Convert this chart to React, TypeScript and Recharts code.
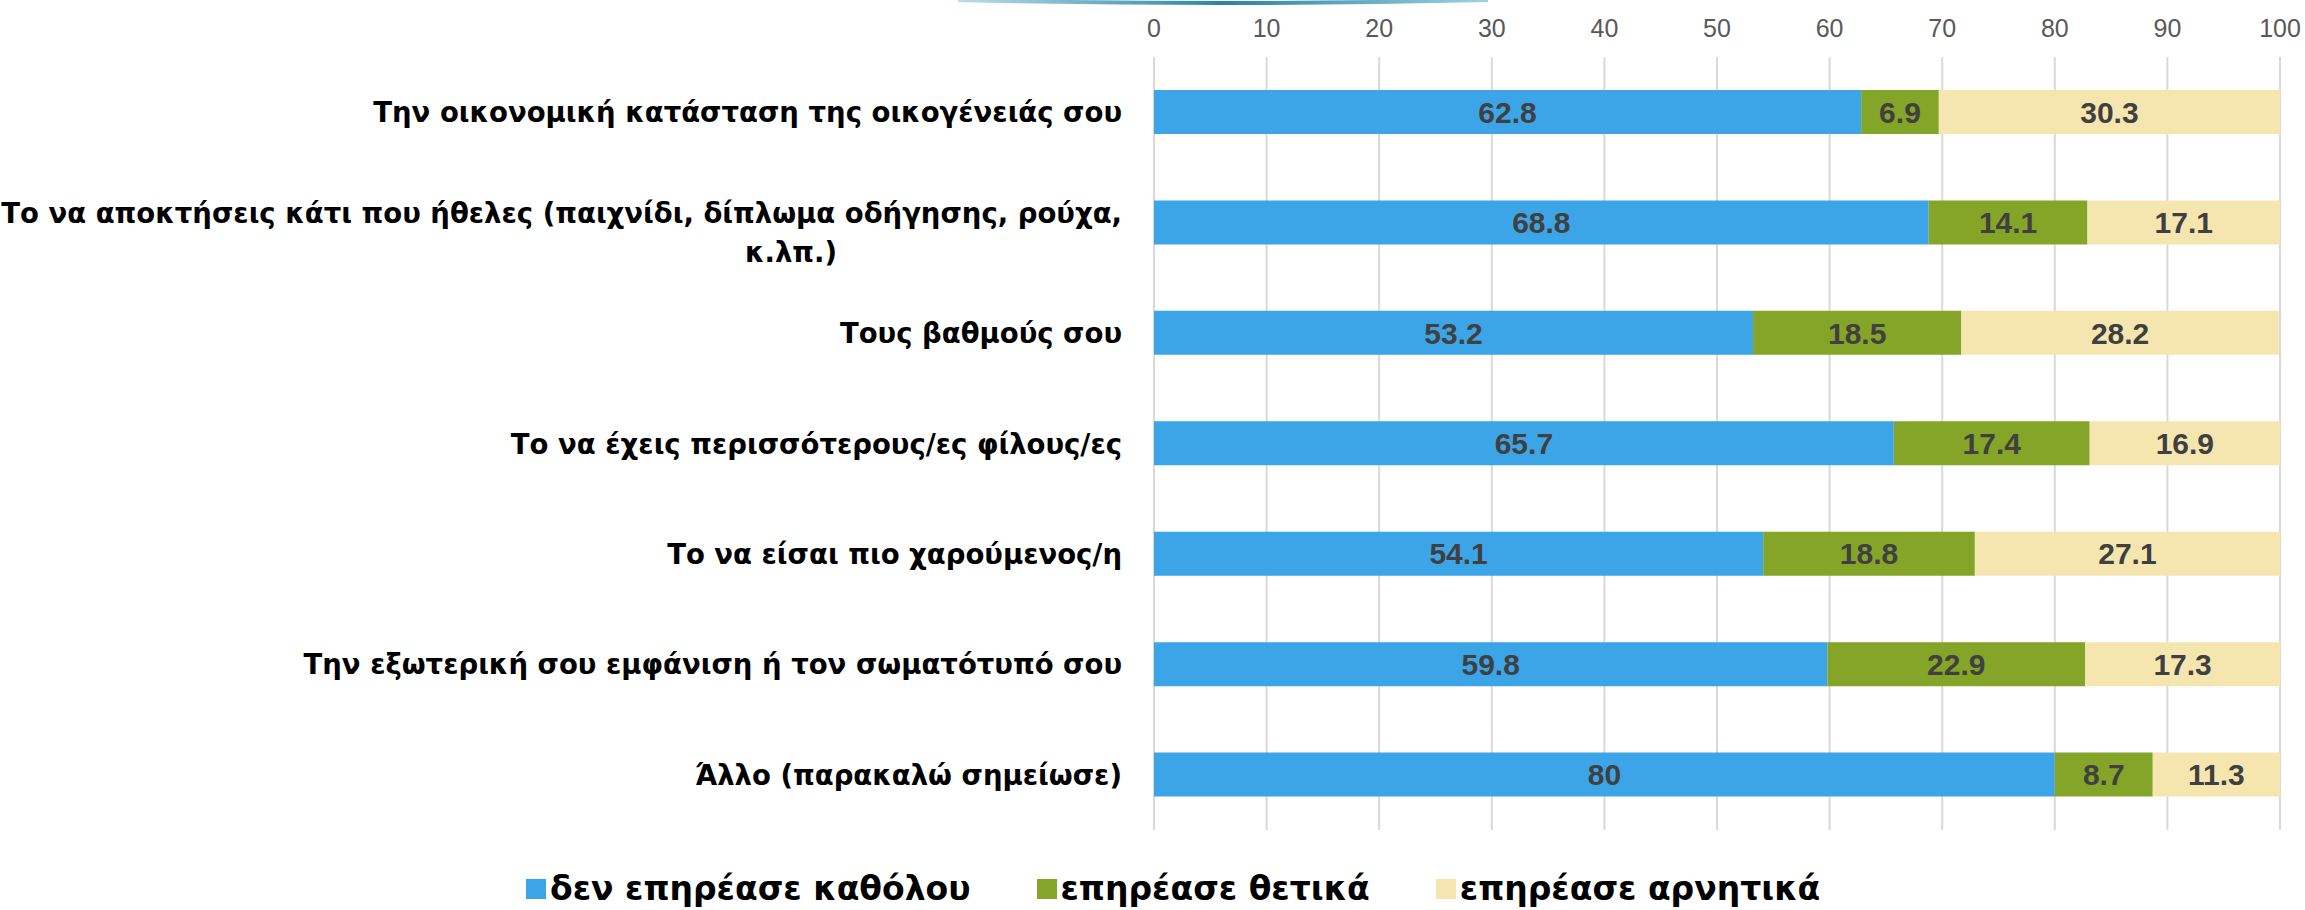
import { BarChart, Bar, XAxis, YAxis, CartesianGrid, Legend, LabelList } from "recharts";

const categories = [
    "Την οικονομική κατάσταση της οικογένειάς σου",
    "Το να αποκτήσεις κάτι που ήθελες (παιχνίδι, δίπλωμα οδήγησης, ρούχα,\nκ.λπ.)",
    "Τους βαθμούς σου",
    "Το να έχεις περισσότερους/ες φίλους/ες",
    "Το να είσαι πιο χαρούμενος/η",
    "Την εξωτερική σου εμφάνιση ή τον σωματότυπό σου",
    "Άλλο (παρακαλώ σημείωσε)",
];

const notAffected = [62.8, 68.8, 53.2, 65.7, 54.1, 59.8, 80];
const positive = [6.9, 14.1, 18.5, 17.4, 18.8, 22.9, 8.7];
const negative = [30.3, 17.1, 28.2, 16.9, 27.1, 17.3, 11.3];

const xTicks = [0, 10, 20, 30, 40, 50, 60, 70, 80, 90, 100];

const series = [
    { key: "none", name: "δεν επηρέασε καθόλου", color: "#3BA5E8" },
    { key: "pos", name: "επηρέασε θετικά", color: "#84A527" },
    { key: "neg", name: "επηρέασε αρνητικά", color: "#F5E6B0" },
];

const data = categories.map((name, i) => ({
    name,
    none: notAffected[i],
    pos: positive[i],
    neg: negative[i],
}));

const labelFont = "'DejaVu Sans', sans-serif";
const numFont = "'Liberation Sans', Arial, sans-serif";

const CategoryTick = (props: any) => {
    const { x, y, payload } = props;
    const lines: string[] = String(payload.value).split("\n");
    if (lines.length === 1) {
        return (
            <text x={x - 32} y={y} textAnchor="end" dominantBaseline="central"
                fontFamily={labelFont} fontWeight="bold" fontSize={27.5} fill="#000">
                {lines[0]}
            </text>
        );
    }
    return (
        <g>
            <text x={x - 32} y={y - 10} textAnchor="end" dominantBaseline="central"
                fontFamily={labelFont} fontWeight="bold" fontSize={27.5} fill="#000">
                {lines[0]}
            </text>
            <text x={x - 363} y={y + 29} textAnchor="middle" dominantBaseline="central"
                fontFamily={labelFont} fontWeight="bold" fontSize={27.5} fill="#000">
                {lines[1]}
            </text>
        </g>
    );
};

const LegendContent = () => (
    <div style={{ height: 80, display: "flex", alignItems: "flex-end", paddingLeft: 526, boxSizing: "border-box", paddingBottom: 2 }}>
        {series.map((s, i) => (
            <div key={s.key} style={{ display: "flex", alignItems: "center", marginRight: i < 2 ? 66 : 0 }}>
                <span style={{ width: 20, height: 20, background: s.color, display: "inline-block", marginRight: 4 }} />
                <span style={{ fontFamily: labelFont, fontWeight: "bold", fontSize: 33, color: "#000", lineHeight: "38px" }}>
                    {s.name}
                </span>
            </div>
        ))}
    </div>
);

const App = () => {
    return (
        <div style={{ position: "absolute", left: 0, top: 0, width: 2305, height: 910, background: "#fff" }}>
            <svg width={2305} height={20} style={{ position: "absolute", left: 0, top: 0 }}>
                <defs>
                    <linearGradient id="arc" x1="0" x2="1" y1="0" y2="0">
                        <stop offset="0" stopColor="#b9dde9" />
                        <stop offset="0.5" stopColor="#2a84a4" />
                        <stop offset="1" stopColor="#9fd0e0" />
                    </linearGradient>
                </defs>
                <path d="M 958 0 Q 1222 6 1488 0" stroke="url(#arc)" strokeWidth={4} fill="none" />
            </svg>
            <BarChart
                width={2305}
                height={910}
                data={data}
                layout="vertical"
                margin={{ top: 17, right: 25, left: 0, bottom: 0 }}
            >
                <CartesianGrid horizontal={false} stroke="#d9d9d9" strokeWidth={2} />
                <XAxis
                    type="number"
                    orientation="top"
                    domain={[0, 100]}
                    ticks={xTicks}
                    height={40}
                    axisLine={false}
                    tickLine={false}
                    tickSize={0}
                    tickMargin={20}
                    tick={{ fontFamily: numFont, fontSize: 25, fill: "#595959" }}
                />
                <YAxis
                    type="category"
                    dataKey="name"
                    width={1154}
                    axisLine={false}
                    tickLine={false}
                    tickSize={0}
                    tickMargin={0}
                    interval={0}
                    tick={<CategoryTick />}
                />
                <Legend verticalAlign="bottom" content={<LegendContent />} />
                {series.map((s) => (
                    <Bar key={s.key} dataKey={s.key} name={s.name} stackId="a" fill={s.color}
                        barSize={44} isAnimationActive={false}>
                        <LabelList dataKey={s.key} position="center" fill="#404040"
                            fontFamily={numFont} fontWeight="bold" fontSize={30} />
                    </Bar>
                ))}
            </BarChart>
        </div>
    );
};

export default App;
